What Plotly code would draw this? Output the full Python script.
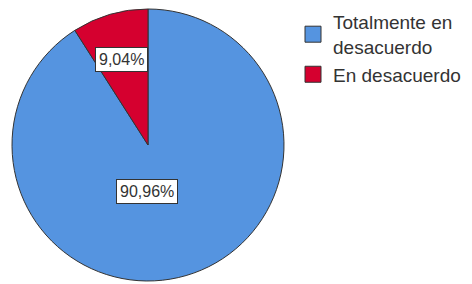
import plotly.graph_objects as go

categories = ["Totalmente en<br>desacuerdo", "En desacuerdo"]
values = [90.96, 9.04]
text_labels = ["90,96%", "9,04%"]

colors = ["#5594E0", "#D5002F"]
W, H = 472, 284
# pie geometry in pixels (style)
cx, cy, R = 148, 145, 136
label_pos = [(147, 191), (122, 60)]
FONT = "Liberation Sans, Arial"

fig = go.Figure(go.Pie(
    labels=categories, values=values, sort=False, direction="clockwise",
    rotation=0, marker=dict(colors=colors, line=dict(color="#333333", width=1)),
    textinfo="none", hoverinfo="label+percent", showlegend=False,
    domain=dict(x=[(cx - R) / W, (cx + R) / W], y=[(H - cy - R) / H, (H - cy + R) / H]),
))

# legend entries (square swatches)
for name, col in zip(categories, colors):
    fig.add_trace(go.Scatter(x=[None], y=[None], mode="markers", name=name,
                             marker=dict(symbol="square", size=16, color=col,
                                         line=dict(color="#333333", width=1)),
                             showlegend=True))

for t, (px, py) in zip(text_labels, label_pos):
    fig.add_annotation(x=px / W, y=1 - py / H, xref="paper", yref="paper",
                       xanchor="center", yanchor="middle",
                       text=t, showarrow=False,
                       font=dict(family=FONT, size=16, color="#333333"),
                       bgcolor="white", bordercolor="#333333", borderwidth=1, borderpad=3)

fig.update_layout(
    width=W, height=H, margin=dict(l=0, r=0, t=0, b=0),
    paper_bgcolor="white", plot_bgcolor="white",
    xaxis=dict(visible=False), yaxis=dict(visible=False),
    legend=dict(x=293 / W, y=1 - 3 / H, xanchor="left", yanchor="top",
                font=dict(family=FONT, size=19, color="#333333"),
                itemsizing="trace", tracegroupgap=0, itemwidth=30),
    showlegend=True,
)

fig.write_html("out.html", config={"displayModeBar": False},
               post_script="document.body.style.margin='0';")
